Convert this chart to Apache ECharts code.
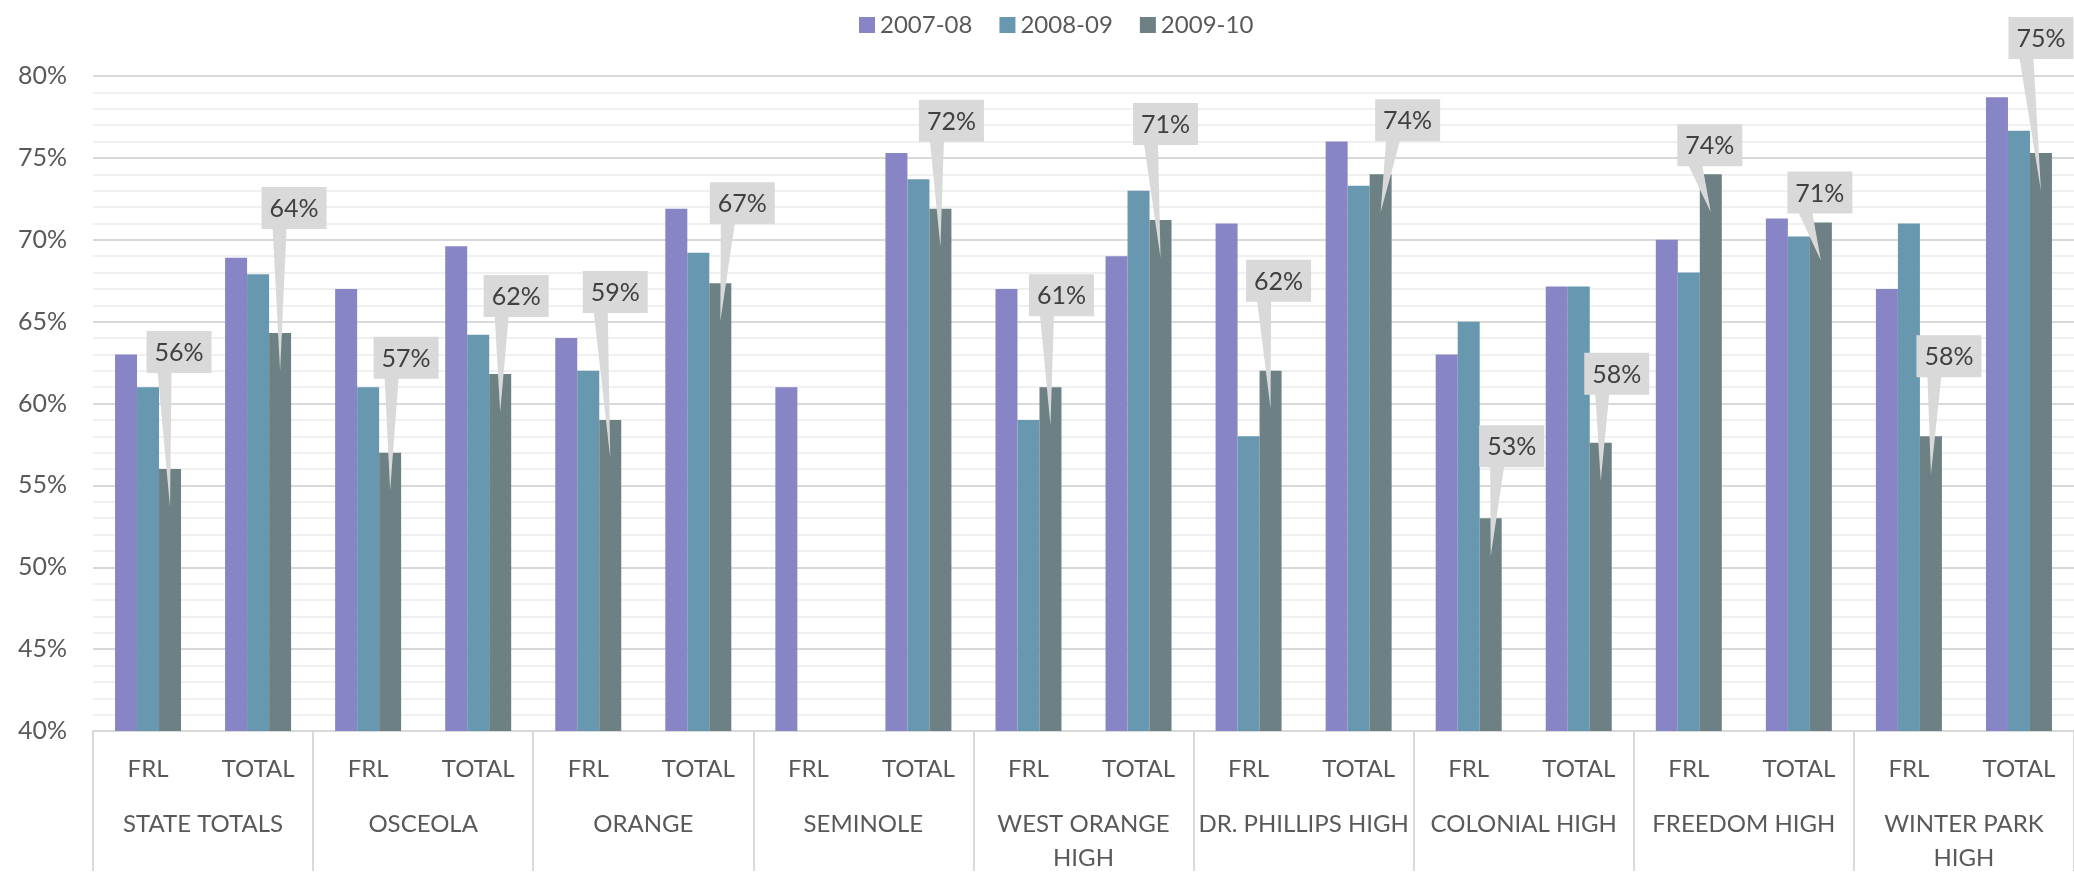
<!DOCTYPE html>
<html>
<head>
<meta charset="utf-8">
<script src="https://cdn.jsdelivr.net/npm/echarts@6/dist/echarts.min.js"></script>
<style>
  html, body { margin: 0; padding: 0; background: #fff; }
  #chart { width: 2074px; height: 875px; }
</style>
</head>
<body>
<div id="chart"></div>
<script>
// sub categories (one per bar cluster) and the groups they belong to
const subLabels = ['FRL', 'TOTAL', 'FRL', 'TOTAL', 'FRL', 'TOTAL', 'FRL', 'TOTAL', 'FRL', 'TOTAL',
                   'FRL', 'TOTAL', 'FRL', 'TOTAL', 'FRL', 'TOTAL', 'FRL', 'TOTAL'];
const groupLabels = ['STATE TOTALS', 'OSCEOLA', 'ORANGE', 'SEMINOLE', 'WEST ORANGE\nHIGH',
                     'DR. PHILLIPS HIGH', 'COLONIAL HIGH', 'FREEDOM HIGH', 'WINTER PARK\nHIGH'];
const seriesNames = ['2007-08', '2008-09', '2009-10'];

// percentages
const y2007 = [63.0, 68.9, 67.0, 69.6, 64.0, 71.9, 61.0, 75.3, 67.0, 69.0, 71.0, 76.0, 63.0, 67.15, 70.0, 71.3, 67.0, 78.7];
const y2008 = [61.0, 67.9, 61.0, 64.2, 62.0, 69.2, null, 73.7, 59.0, 73.0, 58.0, 73.3, 65.0, 67.15, 68.0, 70.2, 71.0, 76.65];
const y2009 = [56.0, 64.3, 57.0, 61.8, 59.0, 67.35, null, 71.9, 61.0, 71.2, 62.0, 74.0, 53.0, 57.6, 74.0, 71.05, 58.0, 75.3];

const yTicks = { min: 40, max: 80, step: 5 };

// where each callout box sits relative to its bar: [px right, px above bar top]
const calloutShift = [[9, 96], [14, 104], [16, 74], [16, 57], [5, 107], [22, 59], null, [11, 67], [11, 71],
                      [5, 75], [8, 69], [27, 33], [21, 51], [16, 48], [-1, 8], [-1, 9], [18, 59], [0, 94]];

const colors = ['#8885c7', '#6798af', '#6d8083'];
const FONT = 'Lato';
const BAR_W = 22;
const BOX_W = 65;
const BOX_H = 42;

const chart = echarts.init(document.getElementById('chart'));

function renderCallout(params, api) {
    const i = api.value(0);
    const v = api.value(1);
    const shift = calloutShift[i];
    const p = api.coord([i, v]);
    const barX = p[0] + BAR_W;   // third bar of the cluster
    const top = p[1];
    const boxX = barX + shift[0] - BOX_W / 2;
    const boxY = top - shift[1] - BOX_H;
    return {
        type: 'group',
        children: [
            {
                type: 'polygon',
                shape: { points: [[boxX + 11, boxY + BOX_H - 1], [boxX + 25, boxY + BOX_H - 1], [barX, top + 38]] },
                style: { fill: '#d9d9d9' }
            },
            {
                type: 'rect',
                shape: { x: boxX, y: boxY, width: BOX_W, height: BOX_H },
                style: { fill: '#d9d9d9' }
            },
            {
                type: 'text',
                style: {
                    text: Math.round(v) + '%',
                    x: boxX + BOX_W / 2, y: boxY + BOX_H / 2 + 1,
                    align: 'center', verticalAlign: 'middle',
                    fill: '#404040', fontSize: 25, fontFamily: FONT
                }
            }
        ]
    };
}

const calloutData = y2009.map((v, i) => (v == null ? null : [i, v])).filter(Boolean);

const option = {
    animation: false,
    color: colors,
    textStyle: { fontFamily: FONT },
    legend: {
        data: seriesNames,
        left: 859,
        top: 13,
        padding: 0,
        icon: 'rect',
        itemWidth: 16,
        itemHeight: 16,
        itemGap: 27,
        textStyle: { fontSize: 24, color: '#595959', fontFamily: FONT, lineHeight: 16 }
    },
    grid: { left: 93, top: 76, width: 1988, height: 660, containLabel: false },
    xAxis: [
        {
            type: 'category',
            data: subLabels,
            axisLine: { lineStyle: { color: '#d9d9d9', width: 2 } },
            axisTick: { show: false },
            axisLabel: { interval: 0, margin: 23, fontSize: 24, lineHeight: 30, color: '#595959', fontFamily: FONT }
        },
        {
            type: 'category',
            data: groupLabels,
            position: 'bottom',
            axisLine: { show: false },
            axisTick: { show: true, length: 140, interval: 0, lineStyle: { color: '#d9d9d9', width: 2 } },
            axisLabel: { interval: 0, margin: 76, fontSize: 24, lineHeight: 34, color: '#595959', fontFamily: FONT }
        }
    ],
    yAxis: {
        type: 'value',
        min: yTicks.min,
        max: yTicks.max,
        interval: yTicks.step,
        axisLine: { show: false },
        axisTick: { show: false },
        axisLabel: { formatter: '{value}%', margin: 26, fontSize: 25, color: '#595959', fontFamily: FONT },
        splitLine: { lineStyle: { color: '#d9d9d9', width: 2 } },
        minorTick: { show: false, splitNumber: 5 },
        minorSplitLine: { show: true, lineStyle: { color: '#f0f0f0', width: 2 } }
    },
    series: [
        { name: seriesNames[0], type: 'bar', data: y2007, barWidth: BAR_W, barGap: '0%' },
        { name: seriesNames[1], type: 'bar', data: y2008, barWidth: BAR_W, barGap: '0%' },
        { name: seriesNames[2], type: 'bar', data: y2009, barWidth: BAR_W, barGap: '0%' },
        {
            type: 'custom',
            renderItem: renderCallout,
            data: calloutData,
            z: 10,
            clip: false
        }
    ]
};

chart.setOption(option);
</script>
</body>
</html>
